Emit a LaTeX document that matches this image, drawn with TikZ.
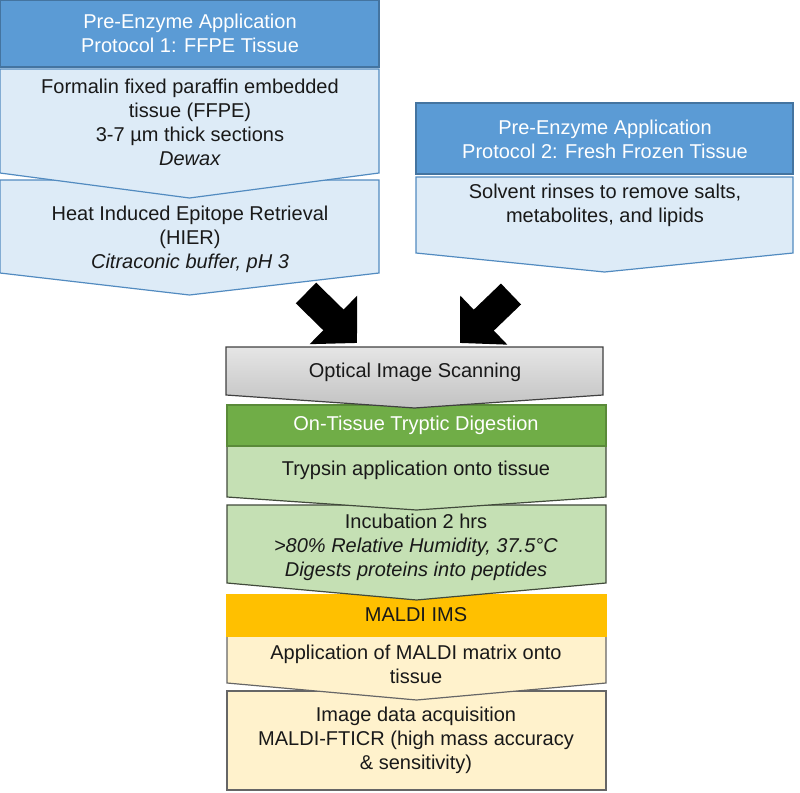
\documentclass[tikz,border=0pt]{standalone}
\usepackage{fontspec}
\setmainfont{Liberation Sans}
\usepackage{xcolor}
\usepackage{tikz}
\usetikzlibrary{arrows.meta}

\definecolor{hdrblue}{HTML}{5B9BD5}
\definecolor{lightblue}{HTML}{DDEBF7}
\definecolor{hdrgreen}{HTML}{70AD47}
\definecolor{lightgreen}{HTML}{C5E0B4}
\definecolor{hdrorange}{HTML}{FFC000}
\definecolor{lightyellow}{HTML}{FFF2CC}

% box with a pointed bottom: style, x-left, x-right, top, side bottom, tip
\newcommand{\chevbox}[6]{\draw[#1] (#2,#4) -- (#3,#4) -- (#3,#5) -- ({(#2+#3)/2},#6) -- (#2,#5) -- cycle;}

\begin{document}
\begin{tikzpicture}[x=1pt, y=-1pt, line width=1.2pt,
    every node/.style={font=\fontsize{20}{24}\selectfont, align=center, text=black!90},
    hdr/.style={fill=hdrblue, draw=hdrblue!75!black},
    blue/.style={fill=lightblue, draw=hdrblue!90!black},
    scan/.style={top color=black!10, bottom color=black!24, draw=black!75},
    grnhdr/.style={fill=hdrgreen, draw=hdrgreen!80!black},
    green/.style={fill=lightgreen, draw=black!45!lightgreen!60!black},
    orghdr/.style={fill=hdrorange, draw=hdrorange},
    yellow/.style={fill=lightyellow, draw=black!60},
    bigarrow/.style={line width=29pt, -{Triangle[length=33pt, width=66pt]}}]
        \useasboundingbox (0,0) rectangle (800,792);

        % protocol 1 (drawn bottom up so the points overlap)
        \chevbox{blue}{0}{379}{180}{273}{295}
        \chevbox{blue}{0}{379}{69}{173}{198}
        \chevbox{hdr}{0}{379}{0}{67}{67}

        % protocol 2
        \chevbox{blue}{416}{793}{177}{253}{272}
        \chevbox{hdr}{416}{793}{103}{174}{174}

        % common workflow
        \chevbox{yellow}{227}{606}{691}{790}{790}
        \chevbox{yellow}{227}{606}{636}{683}{700}
        \chevbox{orghdr}{227}{606}{595}{636}{636}
        \chevbox{green}{227}{606}{505}{583}{600}
        \chevbox{green}{227}{606}{446}{497}{510}
        \chevbox{grnhdr}{227}{606}{405}{446}{446}
        \chevbox{scan}{226}{603}{347}{395}{408}

        \node[text=white] (P1) at (190,33) {Pre-Enzyme Application\\Protocol 1: FFPE Tissue};
        \node (FFPE) at (190,122) {Formalin fixed paraffin embedded\\tissue (FFPE)\\3-7 µm thick sections\\\textit{Dewax}};
        \node (HIER) at (190,239) {Heat Induced Epitope Retrieval\\(HIER)\\\textit{Citraconic buffer, pH 3}};

        \node[text=white] (P2) at (605,139) {Pre-Enzyme Application\\Protocol 2: Fresh Frozen Tissue};
        \node (rinse) at (605,205) {Solvent rinses to remove salts,\\metabolites, and lipids};

        \node (scan) at (415,372) {Optical Image Scanning};
        \node[text=white] (digest) at (416,425) {On-Tissue Tryptic Digestion};
        \node (trypsin) at (416,470) {Trypsin application onto tissue};
        \node (incub) at (416,547) {Incubation 2 hrs\\\textit{>80\% Relative Humidity, 37.5°C}\\\textit{Digests proteins into peptides}};
        \node (ims) at (416,615) {MALDI IMS};
        \node (matrix) at (416,664) {Application of MALDI matrix onto\\tissue};
        \node (acq) at (416,740) {Image data acquisition\\MALDI-FTICR (high mass accuracy\\\& sensitivity)};

        \coordinate (t1) at (306,293);
        \coordinate (h1) at (357,343);
        \coordinate (t2) at (511,294);
        \coordinate (h2) at (460,343);
        \draw[bigarrow] (t1) -- (h1);
        \draw[bigarrow] (t2) -- (h2);
\end{tikzpicture}
\end{document}
